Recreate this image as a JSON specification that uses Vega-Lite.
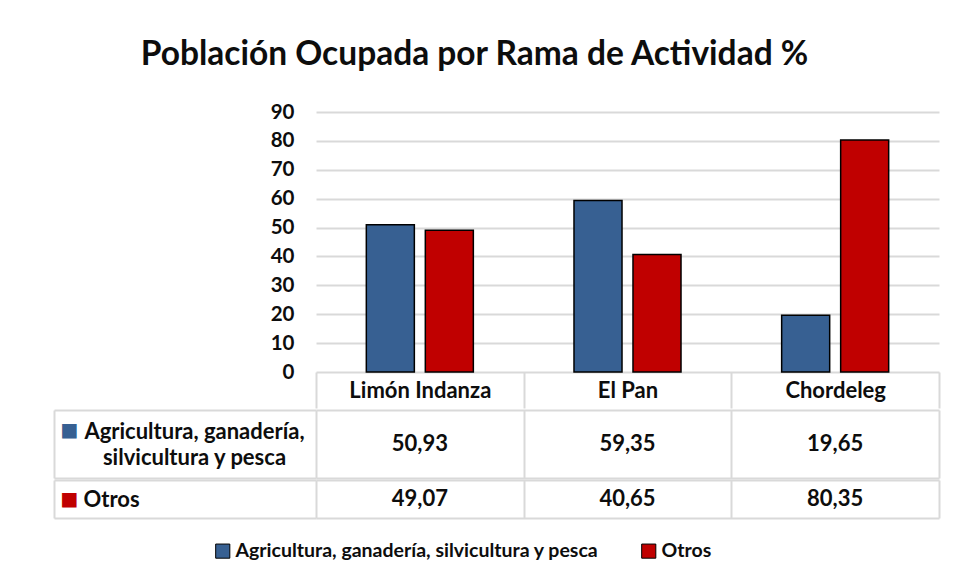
{
  "$schema": "https://vega.github.io/schema/vega-lite/v6.json",
  "padding": {"left": 53, "top": 37, "right": 14, "bottom": 14},
  "background": "white",
  "title": {
    "text": "Población Ocupada por Rama de Actividad %",
    "font": "Lato",
    "fontSize": 33.5,
    "fontWeight": "bold",
    "color": "#0d0d0d",
    "anchor": "middle",
    "dx": -22,
    "offset": 30
  },
  "datasets": {
    "tabla": [
      {"municipio": "Limón Indanza", "rama": "Agricultura, ganadería, silvicultura y pesca", "valor": 50.93},
      {"municipio": "Limón Indanza", "rama": "Otros", "valor": 49.07},
      {"municipio": "El Pan", "rama": "Agricultura, ganadería, silvicultura y pesca", "valor": 59.35},
      {"municipio": "El Pan", "rama": "Otros", "valor": 40.65},
      {"municipio": "Chordeleg", "rama": "Agricultura, ganadería, silvicultura y pesca", "valor": 19.65},
      {"municipio": "Chordeleg", "rama": "Otros", "valor": 80.35}
    ]
  },
  "data": {"name": "tabla"},
  "spacing": 0,
  "vconcat": [
    {
      "width": 623,
      "height": 260,
      "mark": {"type": "bar", "stroke": "black", "strokeWidth": 1.5},
      "encoding": {
        "x": {
          "field": "municipio", "type": "nominal",
          "sort": ["Limón Indanza", "El Pan", "Chordeleg"],
          "scale": {"paddingInner": 0, "paddingOuter": 0},
          "axis": {
            "orient": "bottom", "title": null, "labelAngle": 0, "domain": false,
            "tickBand": "extent", "tickSize": 36, "tickColor": "#d9d9d9", "tickWidth": 2,
            "labelPadding": -18, "labelBaseline": "middle",
            "labelFont": "Lato", "labelFontSize": 22, "labelFontWeight": "bold", "labelColor": "#0d0d0d"
          }
        },
        "xOffset": {
          "field": "rama", "type": "nominal",
          "sort": ["Agricultura, ganadería, silvicultura y pesca", "Otros"],
          "scale": {"paddingInner": 0.186, "paddingOuter": 0.853}
        },
        "y": {
          "field": "valor", "type": "quantitative",
          "scale": {"domain": [0, 90], "nice": false},
          "axis": {
            "values": [0, 10, 20, 30, 40, 50, 60, 70, 80, 90],
            "title": null, "domain": false, "ticks": false,
            "labelPadding": 22, "labelFont": "Lato", "labelFontSize": 20.5,
            "labelFontWeight": "bold", "labelColor": "#0d0d0d",
            "gridColor": "#d9d9d9", "gridWidth": 2
          }
        },
        "color": {
          "field": "rama", "type": "nominal",
          "sort": ["Agricultura, ganadería, silvicultura y pesca", "Otros"],
          "scale": {"domain": ["Agricultura, ganadería, silvicultura y pesca", "Otros"], "range": ["#376092", "#C00000"]},
          "legend": {
            "orient": "none", "legendX": -103, "legendY": 429,
            "direction": "horizontal", "title": null,
            "symbolType": "square", "symbolSize": 200, "symbolStrokeColor": "black",
            "symbolStrokeWidth": 1, "symbolOpacity": 1,
            "labelFont": "Lato", "labelFontSize": 19.5, "labelFontWeight": "bold",
            "labelColor": "#0d0d0d", "labelLimit": 600, "columnPadding": 40,
            "labelOffset": 3
          }
        }
      }
    },
    {
      "width": 623,
      "height": 68,
      "transform": [{"filter": "datum.rama != 'Otros'"}],
      "layer": [
        {
          "mark": {"type": "text", "font": "Lato", "fontSize": 22, "fontWeight": "bold", "color": "#0d0d0d"},
          "encoding": {
            "x": {
              "field": "municipio", "type": "nominal",
              "sort": ["Limón Indanza", "El Pan", "Chordeleg"],
              "scale": {"paddingInner": 0, "paddingOuter": 0},
              "axis": {
                "title": null, "labels": false, "ticks": false, "domain": false,
                "tickBand": "extent",
                "grid": true, "gridColor": "#d9d9d9", "gridWidth": 2
              }
            },
            "y": {
              "field": "rama", "type": "nominal",
              "scale": {"paddingInner": 0, "paddingOuter": 0},
              "axis": {
                "title": null, "domain": false,
                "tickBand": "extent", "tickSize": 262, "tickColor": "#d9d9d9", "tickWidth": 2,
                "grid": true, "gridColor": "#d9d9d9", "gridWidth": 2,
                "labelExpr": "datum.label == '' ? '' : ['Agricultura, ganadería,', 'silvicultura y pesca']",
                "labelAlign": "center", "labelPadding": -140, "labelLineHeight": 26,
                "labelOffset": {"condition": {"test": "datum.label == ''", "value": 20}, "value": -13},
                "labelFont": "Lato", "labelFontWeight": "bold", "labelColor": "#0d0d0d",
                "labelFontSize": {"condition": {"test": "datum.label == ''", "value": 0}, "value": 22},
                "labelLimit": 600
              }
            },
            "text": {"field": "valor", "type": "quantitative", "format": ".2f"}
          }
        },
        {
          "mark": {"type": "point", "opacity": 0},
          "encoding": {
            "y": {
              "field": "rama", "type": "nominal",
              "axis": {
                "orient": "left", "offset": 262, "title": null, "ticks": false, "grid": false,
                "domainColor": "#d9d9d9", "domainWidth": 2,
                "labelExpr": "'■'", "labelColor": "#376092", "labelFont": "DejaVu Sans",
                "labelFontSize": 19, "labelAlign": "center", "labelPadding": -15, "labelOffset": -14
              }
            }
          }
        }
      ],
      "resolve": {"axis": {"y": "independent"}}
    },
    {
      "width": 623,
      "height": 38,
      "transform": [{"filter": "datum.rama == 'Otros'"}],
      "layer": [
        {
          "mark": {"type": "text", "font": "Lato", "fontSize": 22, "fontWeight": "bold", "color": "#0d0d0d"},
          "encoding": {
            "x": {
              "field": "municipio", "type": "nominal",
              "sort": ["Limón Indanza", "El Pan", "Chordeleg"],
              "scale": {"paddingInner": 0, "paddingOuter": 0},
              "axis": {
                "title": null, "labels": false, "ticks": false, "domain": false,
                "tickBand": "extent",
                "grid": true, "gridColor": "#d9d9d9", "gridWidth": 2
              }
            },
            "y": {
              "field": "rama", "type": "nominal",
              "scale": {"paddingInner": 0, "paddingOuter": 0},
              "axis": {
                "title": null, "domain": false,
                "tickBand": "extent", "tickSize": 262, "tickColor": "#d9d9d9", "tickWidth": 2,
                "grid": true, "gridColor": "#d9d9d9", "gridWidth": 2,
                "labelAlign": "left", "labelPadding": -29,
                "labelOffset": {"condition": {"test": "datum.label == ''", "value": 15}, "value": 0},
                "labelFont": "Lato", "labelFontWeight": "bold", "labelColor": "#0d0d0d",
                "labelFontSize": {"condition": {"test": "datum.label == ''", "value": 0}, "value": 22},
                "labelLimit": 600
              }
            },
            "text": {"field": "valor", "type": "quantitative", "format": ".2f"}
          }
        },
        {
          "mark": {"type": "point", "opacity": 0},
          "encoding": {
            "y": {
              "field": "rama", "type": "nominal",
              "axis": {
                "orient": "left", "offset": 262, "title": null, "ticks": false, "grid": false,
                "domainColor": "#d9d9d9", "domainWidth": 2,
                "labelExpr": "'■'", "labelColor": "#C00000", "labelFont": "DejaVu Sans",
                "labelFontSize": 19, "labelAlign": "center", "labelPadding": -15
              }
            }
          }
        }
      ],
      "resolve": {"axis": {"y": "independent"}}
    }
  ],
  "config": {
    "locale": {"number": {"decimal": ",", "thousands": ".", "grouping": [3], "currency": ["$", ""]}},
    "view": {"stroke": null},
    "font": "Lato"
  }
}
